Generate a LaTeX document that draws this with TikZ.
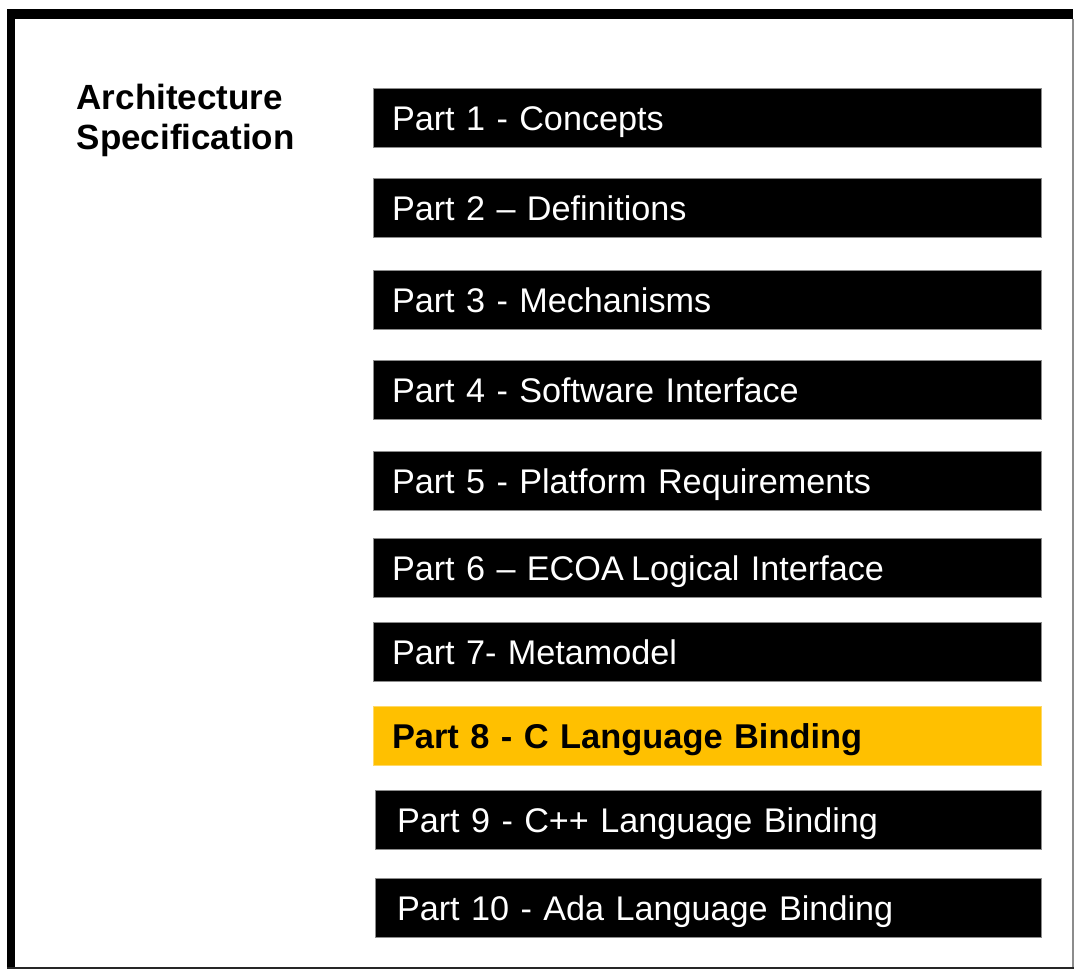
\documentclass[tikz,border=0pt]{standalone}
\usepackage{fontspec}
\setmainfont{Liberation Sans}
\definecolor{accent}{HTML}{FFC000}
\definecolor{edgegray}{HTML}{8C8C8C}
\begin{document}
\begin{tikzpicture}[x=1pt,y=-1pt,
  partbox/.style={draw=edgegray, line width=1pt, fill=black, text=white,
    anchor=north west, minimum height=59pt, inner xsep=18.5pt, inner ysep=0pt,
    text width=631pt, align=left, text height=24pt, text depth=0pt,
    font=\fontsize{34.2}{40}\selectfont},
  partboxwide/.style={partbox, text width=623pt, inner xsep=21.5pt},
  highlight/.style={partbox, fill=accent, draw=accent!60, text=black,
    font=\fontsize{34.4}{40}\selectfont\bfseries},
  heading/.style={anchor=north west, align=left, inner sep=0pt,
    font=\fontsize{35}{39.5}\selectfont\bfseries}]
  \useasboundingbox (0,0) rectangle (1075,970);
  % outer frame: heavy top and left edges, thin right and bottom edges
  \fill[black] (7,9) rectangle (15,969);
  \fill[black] (7,9) rectangle (1073,19);
  \draw[edgegray, line width=1.5pt] (1073,19) -- (1073,968);
  \draw[black!85, line width=2pt] (7,968) -- (1074,968);

  \node[heading] (title) at (76.5,84) {Architecture\\Specification};

  \node[partbox] (p1) at (373,88) {Part 1 - Concepts};
  \node[partbox] (p2) at (373,178) {Part 2 – Definitions};
  \node[partbox] (p3) at (373,270) {Part 3 - Mechanisms};
  \node[partbox] (p4) at (373,360) {Part 4 - Software Interface};
  \node[partbox] (p5) at (373,451) {Part 5 - Platform Requirements};
  \node[partbox] (p6) at (373,538) {Part 6 – ECOA\hspace{-0.12em} Logical Interface};
  \node[partbox] (p7) at (373,622) {Part 7- Metamodel};
  \node[highlight] (p8) at (373,706) {Part 8 - C Language Binding};
  \node[partboxwide] (p9) at (375,790) {Part 9 - C++ Language Binding};
  \node[partboxwide] (p10) at (375,878) {Part 10 - Ada Language Binding};
\end{tikzpicture}
\end{document}
